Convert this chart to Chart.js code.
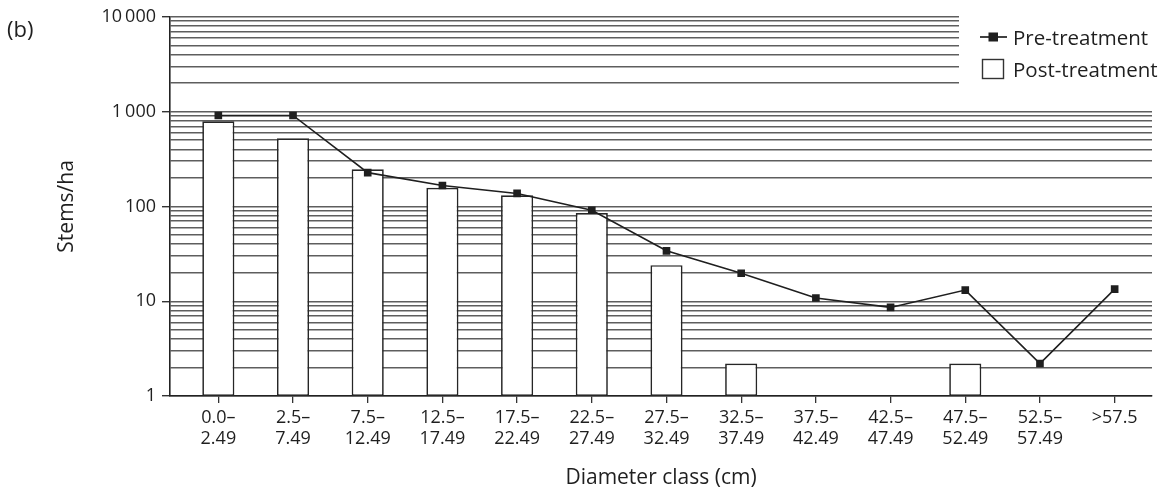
<!DOCTYPE html>
<html>
<head>
<meta charset="utf-8">
<script src="https://cdn.jsdelivr.net/npm/chart.js@4/dist/chart.umd.min.js"></script>
<style>
  html, body { margin: 0; padding: 0; background: #fff; }
  #wrap { width: 1164px; height: 495px; position: relative; }
</style>
</head>
<body>
<div id="wrap"><canvas id="c" width="1164" height="495"></canvas></div>
<script>
// Diameter classes (cm), one label per bar slot (two lines each)
const categories = [
  ["0.0–", "2.49"], ["2.5–", "7.49"], ["7.5–", "12.49"], ["12.5–", "17.49"],
  ["17.5–", "22.49"], ["22.5–", "27.49"], ["27.5–", "32.49"], ["32.5–", "37.49"],
  ["37.5–", "42.49"], ["42.5–", "47.49"], ["47.5–", "52.49"], ["52.5–", "57.49"],
  [">57.5"]
];

// Stems per hectare in each diameter class
const preTreatment  = [910, 910, 227, 166, 137, 91, 34, 19.7, 10.8, 8.6, 13.1, 2.2, 13.4];
const postTreatment = [790, 524, 246, 157, 131, 85, 24, 2.2, null, null, 2.2, null, null];

// Labelled decades on the log axis
const yTickValues = [1, 10, 100, 1000, 10000];
const yTickLabels = ["1", "10", "100", "1\u2009000", "10\u2009000"];

const seriesNames = ["Pre-treatment", "Post-treatment"];

// Every decade also gets minor grid lines at 2..9 times its base value
const yGridValues = [];
yTickValues.forEach((d, i) => {
  yGridValues.push(d);
  if (i < yTickValues.length - 1) {
    for (let k = 2; k <= 9; k++) yGridValues.push(d * k);
  }
});

const FONT = "'Open Sans', 'Noto Sans', sans-serif";
const INK = '#1f1f1f';

// Panel letter and the boxed legend in the top-right corner
const decorations = {
  id: 'decorations',
  beforeDatasetsDraw(chart) {
    const ctx = chart.ctx;
    ctx.save();
    ctx.fillStyle = '#fff';
    ctx.fillRect(959, 8, 205, 92);
    ctx.restore();
  },
  afterDraw(chart) {
    const ctx = chart.ctx;
    ctx.save();
    ctx.fillStyle = INK;
    ctx.textBaseline = 'alphabetic';
    ctx.textAlign = 'left';
    ctx.font = "22px " + FONT;
    ctx.fillText('(b)', 7, 37);

    // Pre-treatment: line with square marker
    ctx.font = "20.5px " + FONT;
    ctx.strokeStyle = INK;
    ctx.lineWidth = 1.7;
    ctx.beginPath();
    ctx.moveTo(980, 37);
    ctx.lineTo(1007, 37);
    ctx.stroke();
    ctx.fillRect(988.5, 32.5, 9.5, 9);
    ctx.fillText(seriesNames[0], 1013, 45);

    // Post-treatment: open box
    ctx.lineWidth = 1.4;
    ctx.strokeStyle = '#333';
    ctx.strokeRect(982.5, 59.5, 21, 19);
    ctx.fillText(seriesNames[1], 1013, 77);
    ctx.restore();
  }
};

new Chart(document.getElementById('c'), {
  type: 'bar',
  data: {
    datasets: [
      {
        type: 'line',
        label: seriesNames[0],
        data: preTreatment.map((v, i) => ({ x: i, y: v })),
        borderColor: INK,
        borderWidth: 1.6,
        pointStyle: 'rect',
        pointRadius: 5.4,
        pointBackgroundColor: INK,
        pointBorderWidth: 0,
        tension: 0,
        order: 0
      },
      {
        type: 'bar',
        label: seriesNames[1],
        data: postTreatment.map((v, i) => ({ x: i, y: v })),
        backgroundColor: '#fff',
        borderColor: '#262626',
        borderWidth: 1.7,
        borderSkipped: false,
        barPercentage: 0.43,
        categoryPercentage: 1,
        order: 1
      }
    ]
  },
  options: {
    responsive: false,
    animation: false,
    events: [],
    layout: { padding: { left: 52, right: 12, top: 14, bottom: 1 } },
    plugins: { legend: { display: false }, tooltip: { enabled: false } },
    scales: {
      x: {
        type: 'linear',
        offset: false,
        min: -0.647,
        max: 12.5,
        afterBuildTicks: s => { s.ticks = categories.map((_, i) => ({ value: i + 0.5 })); },
        afterFit: s => { s.height = 98; s.paddingLeft = 0; s.paddingRight = 0; },
        ticks: {
          autoSkip: false,
          maxRotation: 0,
          minRotation: 0,
          labelOffset: -37.3,
          padding: 5,
          color: INK,
          font: { family: FONT, size: 18, lineHeight: 1.15 },
          callback: (v, i) => categories[i]
        },
        grid: { drawOnChartArea: false, tickLength: 7, tickColor: '#333', lineWidth: 1.3 },
        border: { color: '#222', width: 1.6 },
        title: {
          display: true,
          text: 'Diameter class (cm)',
          color: INK,
          font: { family: FONT, size: 21 },
          padding: { top: 4, bottom: 3 }
        }
      },
      y: {
        type: 'logarithmic',
        min: 1,
        max: 10000,
        afterBuildTicks: s => { s.ticks = yGridValues.map(v => ({ value: v })); },
        afterFit: s => { s.width = 118; },
        ticks: {
          autoSkip: false,
          padding: 6,
          color: INK,
          font: { family: FONT, size: 18 },
          callback: v => {
            const idx = yTickValues.indexOf(v);
            return idx >= 0 ? yTickLabels[idx] : '';
          }
        },
        grid: {
          color: '#5e5e5e',
          lineWidth: 1.4,
          tickLength: 8,
          tickColor: c => (c.tick && yTickValues.includes(c.tick.value)) ? '#333' : 'rgba(0,0,0,0)'
        },
        border: { color: '#222', width: 1.6 },
        title: {
          display: true,
          text: 'Stems/ha',
          color: INK,
          font: { family: FONT, size: 21 },
          padding: { top: 2, bottom: 4 }
        }
      }
    }
  },
  plugins: [decorations]
});
</script>
</body>
</html>
